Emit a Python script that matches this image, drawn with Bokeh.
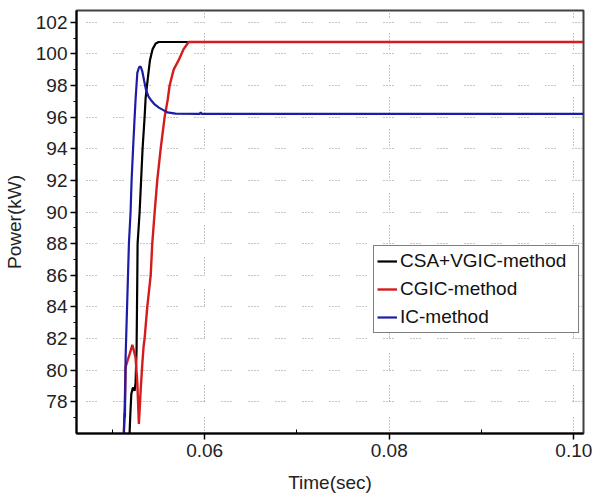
from bokeh.plotting import figure
from bokeh.models import Range1d, FixedTicker, NumeralTickFormatter, Legend, LegendItem
from bokeh.embed import file_html
from bokeh.resources import INLINE

# ---- data ----
time_csa = [0.05183, 0.05186, 0.05195, 0.05205, 0.05222, 0.05241, 0.05251, 0.05262, 0.05270,
            0.05273, 0.05295, 0.05311, 0.05327, 0.05349, 0.05360, 0.05387, 0.05407, 0.05436,
            0.05469, 0.05501, 0.1011]
power_csa = [75.0, 76.0, 77.3, 78.5, 78.9, 78.7, 79.2, 81.3, 86.0,
             88.0, 90.0, 92.0, 94.0, 96.0, 97.2, 98.6, 99.6, 100.3,
             100.65, 100.75, 100.75]

time_cgic = [0.05120, 0.05124, 0.05135, 0.05143, 0.05164, 0.05186, 0.05216, 0.05230, 0.05251,
             0.05270, 0.05287, 0.05306, 0.05324, 0.05338, 0.05349, 0.05378, 0.05415, 0.05432,
             0.05458, 0.05486, 0.05523, 0.05566, 0.05599, 0.05620, 0.05664, 0.05718, 0.05772,
             0.05826, 0.1011]
power_cgic = [75.0, 76.0, 78.0, 80.2, 80.6, 81.0, 81.6, 81.3, 80.8,
              79.2, 76.6, 78.7, 80.4, 81.5, 82.0, 84.0, 86.0, 88.0,
              90.0, 92.0, 94.0, 96.0, 97.1, 98.0, 99.0, 99.6, 100.3,
              100.75, 100.75]

time_ic = [0.05118, 0.05124, 0.05132, 0.05136, 0.05143, 0.05161, 0.05179, 0.05197, 0.05208,
           0.05224, 0.05241, 0.05251, 0.05270, 0.05289, 0.05306, 0.05324, 0.05344, 0.05365,
           0.05392, 0.05415, 0.05458, 0.05504, 0.05595, 0.05685, 0.05946, 0.05957, 0.05967, 0.1011]
power_ic = [75.0, 76.0, 77.3, 77.0, 80.8, 84.4, 88.0, 90.0, 92.0,
            94.0, 96.0, 97.1, 98.8, 99.15, 99.2, 98.9, 98.3, 97.7,
            97.3, 97.1, 96.8, 96.6, 96.3, 96.22, 96.2, 96.3, 96.2, 96.2]

x_major = [0.06, 0.08, 0.10]
x_minor = [0.05, 0.07, 0.09]
y_major = list(range(78, 103, 2))
y_minor = list(range(77, 104, 2))

series_names = ["CSA+VGIC-method", "CGIC-method", "IC-method"]
series_colors = ["#000000", "#d41c1c", "#1c1ca8"]

FONT = "Liberation Sans"

p = figure(width=593, height=502, output_backend="svg", toolbar_location=None,
           x_range=Range1d(0.04611, 0.10105), y_range=Range1d(76.0, 102.74),
           min_border_left=76, min_border_right=10, min_border_top=10, min_border_bottom=69)

p.outline_line_color = "#404040"
p.outline_line_width = 2
p.background_fill_color = "white"
p.border_fill_color = "white"

# grids
p.xgrid.grid_line_color = "#8c8c8c"
p.xgrid.grid_line_width = 1
p.xgrid.grid_line_dash = "1 2 1 2 1 2 1 2 1 2 1 16"
p.ygrid.grid_line_color = "#8c8c8c"
p.ygrid.grid_line_width = 1
p.ygrid.grid_line_dash = "1 2 1 2 1 2 1 17"
p.ygrid.grid_line_dash_offset = 17

# axes
p.xaxis.ticker = FixedTicker(ticks=x_major, minor_ticks=x_minor)
p.xaxis.formatter = NumeralTickFormatter(format="0.00")
p.yaxis.ticker = FixedTicker(ticks=y_major, minor_ticks=y_minor)

for ax in (p.xaxis[0], p.yaxis[0]):
    ax.axis_line_color = "black"
    ax.axis_line_width = 2
    ax.major_tick_line_color = "black"
    ax.minor_tick_line_color = "black"
    ax.major_tick_line_width = 1.5
    ax.major_tick_out = 6
    ax.major_tick_in = 0
    ax.major_label_text_font = FONT
    ax.major_label_text_font_size = "19px"
    ax.major_label_text_color = "#222222"
    ax.axis_label_text_font = FONT
    ax.axis_label_text_font_size = "19px"
    ax.axis_label_text_font_style = "normal"
    ax.axis_label_text_color = "#222222"

p.xaxis.minor_tick_in = 4
p.xaxis.minor_tick_out = 0
p.yaxis.minor_tick_in = 0
p.yaxis.minor_tick_out = 3
p.xaxis.major_label_standoff = 4
p.yaxis.major_label_standoff = 3
p.xaxis.axis_label = "Time(sec)"
p.yaxis.axis_label = "Power(kW)"
p.xaxis.axis_label_standoff = 12
p.yaxis.axis_label_standoff = 8

# curves
r1 = p.line(time_csa, power_csa, line_color=series_colors[0], line_width=2.2)
r2 = p.line(time_cgic, power_cgic, line_color=series_colors[1], line_width=2.4)
r3 = p.line(time_ic, power_ic, line_color=series_colors[2], line_width=2.2)

legend = Legend(items=[LegendItem(label=series_names[0], renderers=[r1]),
                       LegendItem(label=series_names[1], renderers=[r2]),
                       LegendItem(label=series_names[2], renderers=[r3])],
                location=(297, 100))
legend.label_text_font = FONT
legend.label_text_font_size = "19px"
legend.label_text_color = "#111111"
legend.glyph_width = 20
legend.glyph_height = 24
legend.label_height = 24
legend.label_width = 175
legend.label_standoff = 3
legend.spacing = 4
legend.padding = 3
legend.margin = 0
legend.border_line_color = "black"
legend.border_line_width = 1.5
legend.background_fill_color = "white"
legend.background_fill_alpha = 1.0
p.add_layout(legend, "center")

open("out.html", "w").write(file_html(p, INLINE))
